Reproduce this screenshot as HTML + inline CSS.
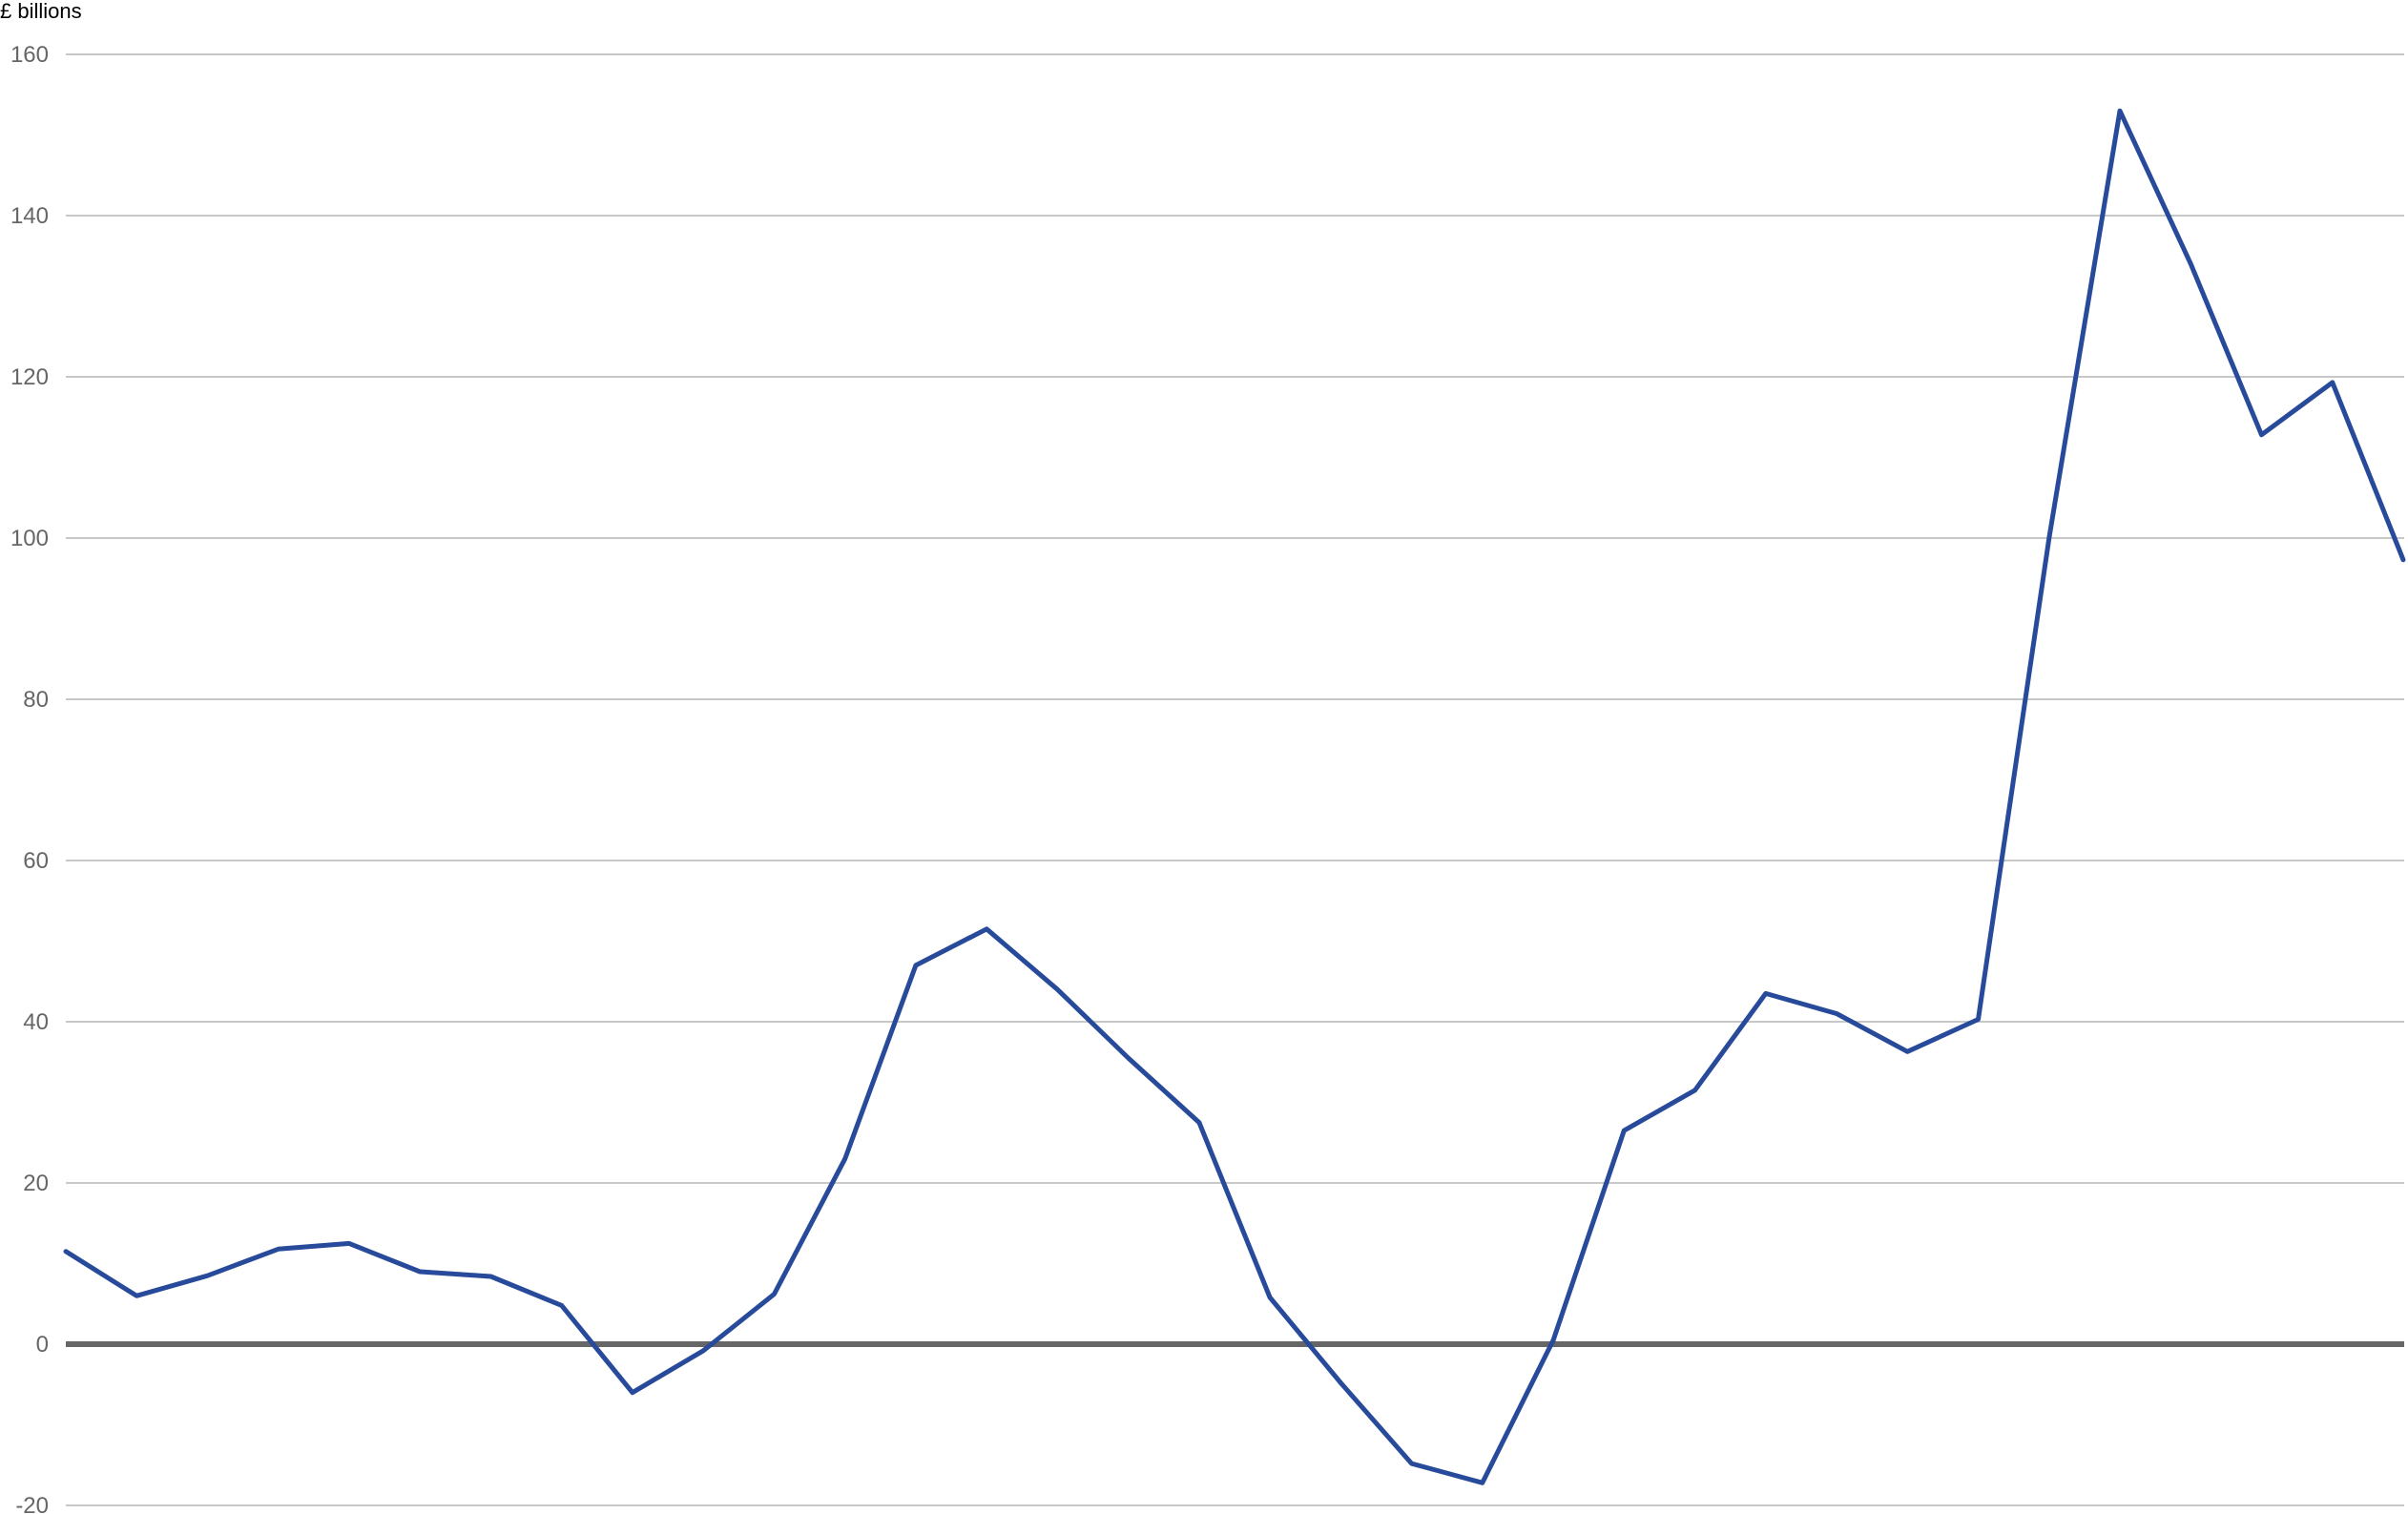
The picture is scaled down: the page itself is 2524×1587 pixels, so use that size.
<!DOCTYPE html>
<html><head><meta charset="utf-8"><style>
html,body{margin:0;padding:0;background:#fff;}
svg{display:block;font-family:"Liberation Sans",Arial,sans-serif;}
</style></head><body>
<svg id="chart" width="2524" height="1587" viewBox="0 0 2524 1587" xmlns="http://www.w3.org/2000/svg">
<text x="0" y="19" font-size="22" fill="#000">£ billions</text>
<g id="grid"></g>
<g id="ticks"></g>
<polyline id="series" fill="none" stroke="#284a9a" stroke-width="5" stroke-linejoin="round" stroke-linecap="round"/>
</svg>
<script>
const yTicks = [160,140,120,100,80,60,40,20,0,-20];
const values = [11.5,6,8.5,11.8,12.5,9,8.4,4.8,-6,-0.8,6.2,23,47,51.5,44,35.5,27.5,5.8,-4.8,-14.8,-17.2,0.5,26.5,31.5,43.5,41,36.3,40.3,100,153,134,112.8,119.3,97.3];

const left=69, right=2520, y0=1409, pxPerUnit=8.45;
function yScale(v){return y0 - v*pxPerUnit;}
function xScale(i){return left + i*(2519-left)/(values.length-1);}
const NS="http://www.w3.org/2000/svg";
const grid=document.getElementById('grid'), ticks=document.getElementById('ticks');
yTicks.forEach(t=>{
  const l=document.createElementNS(NS,'line');
  
  
  l.setAttribute('x1',left);l.setAttribute('x2',right);
  l.setAttribute('y1',yScale(t));l.setAttribute('y2',yScale(t));
  l.setAttribute('stroke',t===0?'#666':'#c8c8c8');
  l.setAttribute('stroke-width',t===0?6:2);
  grid.appendChild(l);
  const tx=document.createElementNS(NS,'text');
  
  
  tx.setAttribute('x',51);tx.setAttribute('y',yScale(t)+8);
  tx.setAttribute('text-anchor','end');tx.setAttribute('font-size','24');tx.setAttribute('fill','#666');
  tx.textContent=t;
  ticks.appendChild(tx);
});
document.getElementById('series').setAttribute('points',values.map((v,i)=>xScale(i).toFixed(1)+','+yScale(v).toFixed(1)).join(' '));
</script>
</body></html>
